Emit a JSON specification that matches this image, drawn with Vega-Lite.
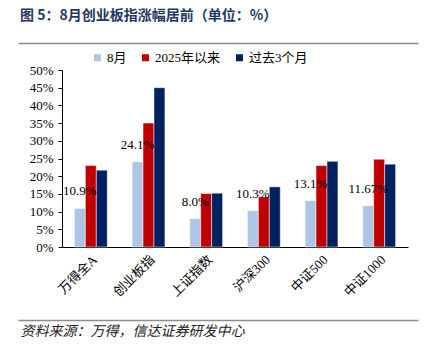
{
  "$schema": "https://vega.github.io/schema/vega-lite/v6.json",
  "autosize": "none",
  "width": 346,
  "height": 177,
  "padding": {"left": 62, "top": 70, "right": 24, "bottom": 105},
  "background": "white",
  "config": {"font": "Liberation Serif, Noto Sans CJK SC", "view": {"stroke": null}},
  "title": {"text": "图 5：8月创业板指涨幅居前（单位：%）", "anchor": "start", "frame": "group", "font": "Noto Sans CJK SC", "fontSize": 14, "fontWeight": "bold", "color": "#1f3864", "offset": 20, "dx": -42},
  "data": {
    "values": [
      {"idx": "万得全A", "series": "8月", "v": 10.9, "label": "10.9%"},
      {"idx": "万得全A", "series": "2025年以来", "v": 23.0, "label": ""},
      {"idx": "万得全A", "series": "过去3个月", "v": 21.7, "label": ""},
      {"idx": "创业板指", "series": "8月", "v": 24.1, "label": "24.1%"},
      {"idx": "创业板指", "series": "2025年以来", "v": 35.0, "label": ""},
      {"idx": "创业板指", "series": "过去3个月", "v": 45.0, "label": ""},
      {"idx": "上证指数", "series": "8月", "v": 8.0, "label": "8.0%"},
      {"idx": "上证指数", "series": "2025年以来", "v": 15.1, "label": ""},
      {"idx": "上证指数", "series": "过去3个月", "v": 15.2, "label": ""},
      {"idx": "沪深300", "series": "8月", "v": 10.3, "label": "10.3%"},
      {"idx": "沪深300", "series": "2025年以来", "v": 14.2, "label": ""},
      {"idx": "沪深300", "series": "过去3个月", "v": 17.0, "label": ""},
      {"idx": "中证500", "series": "8月", "v": 13.1, "label": "13.1%"},
      {"idx": "中证500", "series": "2025年以来", "v": 23.0, "label": ""},
      {"idx": "中证500", "series": "过去3个月", "v": 24.2, "label": ""},
      {"idx": "中证1000", "series": "8月", "v": 11.67, "label": "11.67%"},
      {"idx": "中证1000", "series": "2025年以来", "v": 24.8, "label": ""},
      {"idx": "中证1000", "series": "过去3个月", "v": 23.4, "label": ""}
    ]
  },
  "resolve": {"scale": {"x": "independent"}, "axis": {"x": "independent"}},
  "layer": [
    {
      "encoding": {
        "x": {
          "field": "idx", "type": "nominal", "sort": null,
          "scale": {"paddingInner": 0.43, "paddingOuter": 0.215},
          "axis": {"orient": "bottom", "title": null, "labelAngle": -45, "labelAlign": "right", "labelBaseline": "top", "labelFontSize": 13, "labelColor": "#000", "labelFont": "Liberation Serif, Noto Sans CJK SC", "ticks": false, "domainColor": "#000", "labelPadding": 6}
        },
        "xOffset": {"field": "series", "type": "nominal", "sort": ["8月", "2025年以来", "过去3个月"], "scale": {"domain": ["8月", "2025年以来", "过去3个月"], "paddingInner": 0, "paddingOuter": 0}},
        "y": {
          "field": "v", "type": "quantitative",
          "scale": {"domain": [0, 50], "nice": false},
          "axis": {"title": null, "values": [0, 5, 10, 15, 20, 25, 30, 35, 40, 45, 50], "labelExpr": "datum.value + '%'", "grid": false, "domainColor": "#000", "tickColor": "#000", "tickSize": 4, "labelFontSize": 13, "labelColor": "#000", "labelPadding": 5}
        }
      },
      "layer": [
        {
          "mark": {"type": "bar", "stroke": "white", "strokeWidth": 0.5},
          "encoding": {
            "color": {
              "field": "series", "type": "nominal",
              "scale": {"domain": ["8月", "2025年以来", "过去3个月"], "range": ["#aec6e6", "#c00000", "#002060"]},
              "legend": {"title": null, "orient": "none", "legendX": 29, "legendY": -19, "direction": "horizontal", "symbolType": "square", "symbolSize": 49, "symbolStrokeWidth": 0, "labelFontSize": 13, "labelColor": "#000", "labelFont": "Liberation Serif, Noto Sans CJK SC", "columnPadding": 12, "labelOffset": 3}
            }
          }
        },
        {
          "transform": [{"filter": "datum.series === '8月'"}],
          "mark": {"type": "text", "baseline": "bottom", "dy": -10, "fontSize": 13, "font": "Liberation Serif", "color": "#000"},
          "encoding": {"text": {"field": "label"}}
        }
      ]
    },
    {
      "data": {"values": [{"k": 0}]},
      "mark": {"type": "point", "opacity": 0},
      "encoding": {
        "x": {"datum": 0, "type": "quantitative", "scale": {"domain": [0, 1], "range": [-44, 356]},
          "axis": {"orient": "top", "offset": 27, "domainColor": "#8c8c8c", "domainWidth": 1.5, "ticks": false, "labels": false, "grid": false, "title": null}}
      }
    },
    {
      "data": {"values": [{"k": 0}]},
      "mark": {"type": "point", "opacity": 0},
      "encoding": {
        "x": {"datum": 0, "type": "quantitative", "scale": {"domain": [0, 1], "range": [-44, 356]},
          "axis": {"orient": "bottom", "offset": 73, "domainColor": "#8c8c8c", "domainWidth": 1.5, "ticks": false, "labels": false, "grid": false,
            "title": "资料来源：万得，信达证券研发中心", "titleAnchor": "start", "titleAlign": "left", "titleBaseline": "top", "titleX": -42, "titlePadding": 4, "titleFont": "Noto Sans CJK SC", "titleFontSize": 14, "titleFontStyle": "italic", "titleFontWeight": "normal", "titleColor": "#222"}}
      }
    }
  ]
}
